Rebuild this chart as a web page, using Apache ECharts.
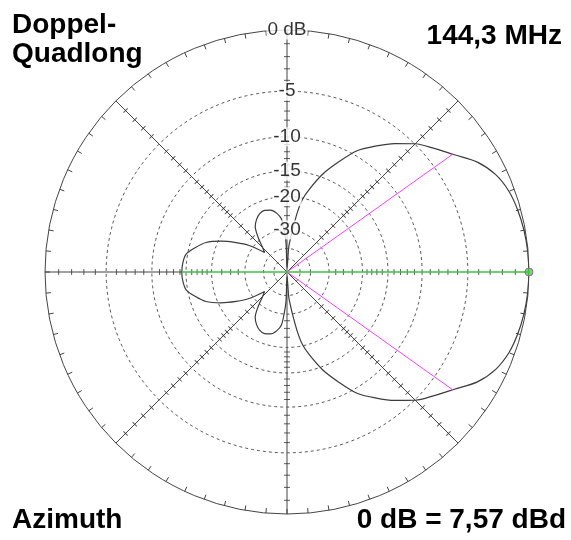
<!DOCTYPE html>
<html>
<head>
<meta charset="utf-8">
<script src="https://cdn.jsdelivr.net/npm/echarts@6/dist/echarts.min.js"></script>
<style>
  html, body { margin: 0; padding: 0; background: #fff; }
  #main { width: 571px; height: 540px; }
</style>
</head>
<body>
<div id="main"></div>
<script>
// azimuth pattern (deg, dB relative to max)
const patternAngles = [0, 5, 10, 15, 20, 25, 30, 35, 40, 45, 50, 55, 60, 65, 70, 75, 78, 80, 82, 84, 86, 89,
  92, 94, 96, 100, 105, 110, 115, 120, 125, 130, 135, 139, 145, 150, 155, 160, 165, 170, 175, 180,
  185, 190, 195, 200, 205, 210, 215, 221, 225, 230, 235, 240, 245, 250, 255, 260, 264, 266, 268,
  271, 274, 276, 278, 280, 282, 285, 290, 295, 300, 305, 310, 315, 320, 325, 330, 335, 340, 345, 350, 355, 360];
const patternDb = [0, -0.03, -0.1, -0.22, -0.42, -0.85, -1.65, -2.9, -3.95, -4.95, -6.3, -7.8, -9.4, -11.9, -14.5, -17.9, -20.3, -23.5, -28.5, -33.5, -39, -70,
  -36, -30, -26, -24, -22.8, -22.4, -22.7, -23.7, -25.3, -29, -33.5, -36, -28.4, -24.3, -20.6, -17.7, -16.1, -14.75, -14.4, -14.3,
  -14.4, -14.75, -16.1, -17.7, -20.6, -24.3, -28.4, -36, -33.5, -29, -25.3, -23.7, -22.7, -22.4, -22.8, -24, -26, -30, -36,
  -70, -39, -33.5, -28.5, -23.5, -20.3, -17.9, -14.5, -11.9, -9.4, -7.8, -6.3, -4.95, -3.95, -2.9, -1.65, -0.85, -0.42, -0.22, -0.1, -0.03, 0];

const ringDb = [-5, -10, -15, -20, -30, -40, -50];
const labelDb = [0, -5, -10, -15, -20, -30];
const labelText = ['0 dB', '-5', '-10', '-15', '-20', '-30'];
const tickDb = [-1, -2, -3, -4, -6, -7, -8, -9, -11, -12, -13, -14, -16, -17, -18, -19, -22.5, -25, -27.5];
const spokeAngles = [0, 45, 90, 135, 180, 225, 270, 315];
const beamEdges = [35.4, 324.6];   // -3 dB points
const beamEdgeDb = -3;
const backLobeDb = -14.3;

// ARRL log scale: 0.89 per 2 dB
const toR = db => Math.pow(0.89, -db / 2);

const chart = echarts.init(document.getElementById('main'));

const ringAngles = [];
for (let a = 0; a <= 360; a += 1) ringAngles.push(a);

const series = [];

ringDb.forEach(db => {
  series.push({
    type: 'line', coordinateSystem: 'polar', showSymbol: false, silent: true, z: 1,
    lineStyle: { color: '#555', width: 1, type: [3, 3] },
    data: ringAngles.map(a => [toR(db), a])
  });
});

// small ticks along the spokes
const tickData = [];
spokeAngles.forEach(a => tickDb.forEach(db => tickData.push([toR(db), a])));
series.push({
  type: 'scatter', coordinateSystem: 'polar', silent: true, z: 2,
  symbol: 'rect', symbolSize: [1, 6],
  symbolRotate: (v) => v[1],
  itemStyle: { color: '#333' },
  data: tickData
});

// pattern
series.push({
  type: 'line', coordinateSystem: 'polar', showSymbol: false, smooth: 0.3, z: 5,
  lineStyle: { color: '#3c3c3c', width: 1.2 },
  data: patternAngles.map((a, i) => [toR(patternDb[i]), a])
});

// beamwidth lines
beamEdges.forEach(a => {
  series.push({
    type: 'line', coordinateSystem: 'polar', showSymbol: false, z: 6,
    lineStyle: { color: '#ff3cff', width: 1 },
    data: [[0, a], [toR(beamEdgeDb), a]]
  });
});

// front / back line
series.push({
  type: 'line', coordinateSystem: 'polar', showSymbol: false, z: 6,
  lineStyle: { color: '#3cff3c', width: 1 },
  data: [[toR(backLobeDb), 180], [toR(0), 0]]
});

// max marker
series.push({
  type: 'scatter', coordinateSystem: 'polar', z: 7,
  symbolSize: 8,
  itemStyle: { color: '#33dd33', borderColor: '#cc33cc', borderWidth: 1 },
  data: [[toR(0), 0]]
});

// dB labels on the vertical spoke
series.push({
  type: 'scatter', coordinateSystem: 'polar', z: 20, zlevel: 1,
  symbolSize: 1, itemStyle: { color: 'rgba(0,0,0,0)' },
  label: {
    show: true, position: 'inside', color: '#000',
    fontFamily: 'Liberation Sans', fontSize: 19,
    backgroundColor: '#fff', padding: [0, 1],
    formatter: p => p.name
  },
  data: labelDb.map((db, i) => ({ name: labelText[i], value: [toR(db), 90] }))
});

const titleFont = 'bold 28px "Liberation Sans"';

chart.setOption({
  animation: false,
  backgroundColor: '#fff',
  polar: { center: [287, 272], radius: 242 },
  angleAxis: {
    type: 'value', min: 0, max: 360, interval: 45,
    startAngle: 0, clockwise: false,
    axisLine: { lineStyle: { color: '#444', width: 1 } },
    axisTick: { show: true, inside: true, length: 5, lineStyle: { color: '#444' } },
    minorTick: { show: true, splitNumber: 9, length: 5, lineStyle: { color: '#444' } },
    axisLabel: { show: false },
    splitLine: { show: true, lineStyle: { color: '#444', width: 1 } }
  },
  radiusAxis: {
    type: 'value', min: 0, max: 1,
    axisLine: { show: false }, axisTick: { show: false },
    axisLabel: { show: false }, splitLine: { show: false }
  },
  graphic: [
    { type: 'text', left: 12, top: 11, style: { text: 'Doppel-\nQuadlong', font: titleFont, fill: '#000', lineHeight: 29 } },
    { type: 'text', right: 9, top: 22, style: { text: '144,3 MHz', font: titleFont, fill: '#000' } },
    { type: 'text', left: 12, top: 506, style: { text: 'Azimuth', font: titleFont, fill: '#000' } },
    { type: 'text', right: 5, top: 506, style: { text: '0 dB = 7,57 dBd', font: titleFont, fill: '#000' } }
  ],
  series: series
});
</script>
</body>
</html>
